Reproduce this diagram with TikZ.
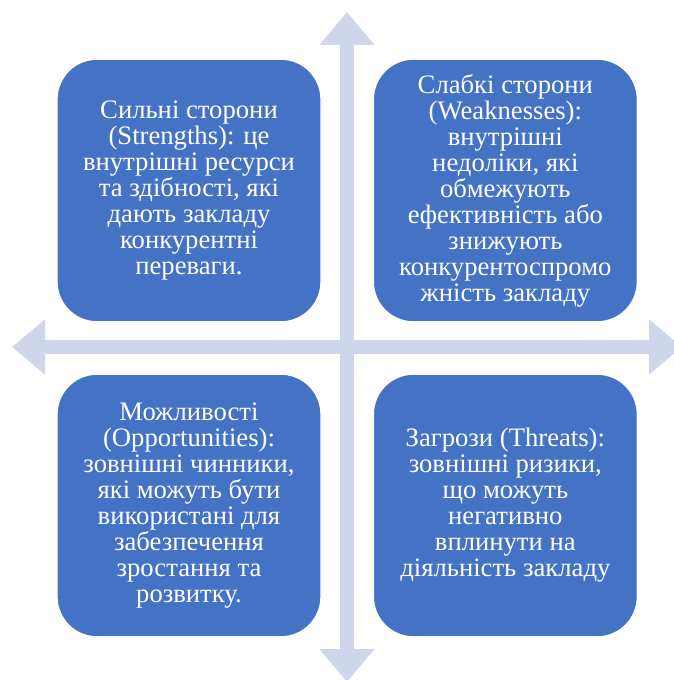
\documentclass[tikz,border=0pt]{standalone}
\usepackage{fontspec}
\setmainfont{Liberation Serif}
\usetikzlibrary{positioning, arrows.meta}
\definecolor{boxblue}{RGB}{68,114,196}
\definecolor{crosslilac}{RGB}{207,213,234}

\begin{document}
\begin{tikzpicture}[x=0.75pt, y=-0.75pt,
    quad/.style={rectangle, rounded corners=30pt, fill=boxblue, draw=white,
      line width=1pt, minimum width=198pt, minimum height=197pt,
      align=center, text=white, inner sep=2pt,
      font=\fontsize{20pt}{19.5pt}\selectfont},
    crossarrow/.style={crosslilac, line width=10.5pt,
      {Triangle[length=24.75pt, width=39.75pt]}-{Triangle[length=24.75pt, width=39.75pt]}}]
  \useasboundingbox (0,0) rectangle (673,680);
  % ends of the cross
  \coordinate (n) at (347,12);
  \coordinate (s) at (347,682);
  \coordinate (w) at (12,347);
  \coordinate (e) at (682,347);
  \draw[crossarrow] (n) -- (s);
  \draw[crossarrow] (w) -- (e);
  % the four quadrants
  \node[quad] (str) at (189,190.5) {Сильні сторони\\(Strengths): це\\внутрішні ресурси\\та здібності, які\\дають закладу\\конкурентні\\переваги.};
  \node[quad, right=38.25pt of str] (weak) {Слабкі сторони\\(Weaknesses):\\внутрішні\\недоліки, які\\обмежують\\ефективність або\\знижують\\конкурентоспромо\\жність закладу};
  \node[quad, below=38.25pt of str] (opp) {Можливості\\(Opportunities):\\зовнішні чинники,\\які можуть бути\\використані для\\забезпечення\\зростання та\\розвитку.};
  \node[quad, right=38.25pt of opp] (thr) {Загрози (Threats):\\зовнішні ризики,\\що можуть\\негативно\\вплинути на\\діяльність закладу};
\end{tikzpicture}
\end{document}
